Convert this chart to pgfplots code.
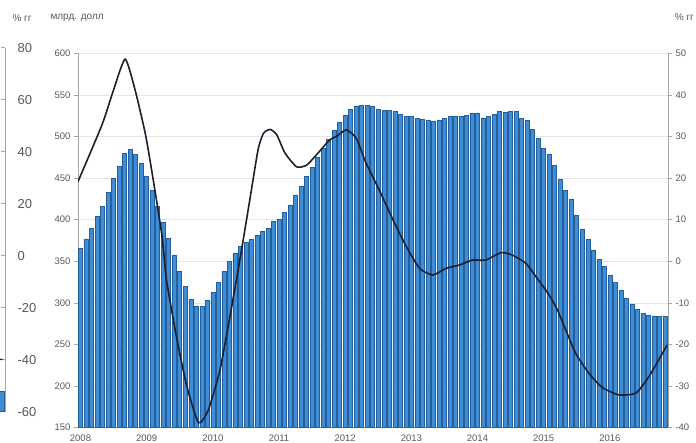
\documentclass[border=0pt]{standalone}
\usepackage{pgfplots}
\usepackage{pgfplotstable}
\pgfplotsset{compat=1.18}
\usepackage{fontspec}
\setmainfont{Liberation Sans}

\definecolor{barblue}{HTML}{3F8DD6}
\definecolor{baredge}{HTML}{245F9C}
\definecolor{tickgray}{HTML}{595959}
\definecolor{axgray}{HTML}{A6A6A6}
\definecolor{gridgray}{HTML}{E6E6E6}
\definecolor{linecol}{HTML}{1B1F2E}

% monthly values, bn USD, Jan 2008 = 0
\pgfplotstableread{
m v
0 365.6
1 376.8
2 389.7
3 404.0
4 415.6
5 432.5
6 449.7
7 464.5
8 479.8
9 484.6
10 478.6
11 467.8
12 452.5
13 435.0
14 415.6
15 396.4
16 377.6
17 357.6
18 337.5
19 319.5
20 304.3
21 296.3
22 295.5
23 302.7
24 312.3
25 324.3
26 337.5
27 349.5
28 359.6
29 367.5
30 372.4
31 376.4
32 381.6
33 386.4
34 389.7
35 397.6
36 400.4
37 408.4
38 417.7
39 429.7
40 440.5
41 452.5
42 463.0
43 475.0
44 485.8
45 496.6
46 507.8
47 516.6
48 525.8
49 532.7
50 536.7
51 537.0
52 537.5
53 535.8
54 532.7
55 531.0
56 531.0
57 529.8
58 527.0
59 524.6
60 523.8
61 521.9
62 520.7
63 519.9
64 517.8
65 519.9
66 521.9
67 523.8
68 524.9
69 524.6
70 525.8
71 528.2
72 528.3
73 522.5
74 524.6
75 527.0
76 529.8
77 528.6
78 530.6
79 529.8
80 521.9
81 519.0
82 508.6
83 497.8
84 485.8
85 479.0
86 465.7
87 448.5
88 434.9
89 424.5
90 405.6
91 388.5
92 376.4
93 363.6
94 352.4
95 343.5
96 333.5
97 324.3
98 314.7
99 305.5
100 298.7
101 292.3
102 287.5
103 285.5
104 284.3
105 283.4
106 284.0
}\exports

\begin{document}
\begin{tikzpicture}[x=1pt,y=1pt]
\path[use as bounding box] (0,0) rectangle (696,443);
\clip (0,0) rectangle (696,443);

% cut-off axis of the neighbouring chart
\begin{axis}[
  at={(-20pt,31.3pt)}, anchor=south west, scale only axis,
  width=25pt, height=364pt,
  xmin=0, xmax=1, ymin=-60, ymax=80,
  ytick={-60,-40,...,80},
  axis y line*=right, axis x line=none,
  axis line style={draw=axgray, line width=0.8pt},
  tick style={draw=axgray, line width=0.8pt},
  tick align=inside, major tick length=4pt,
  ticklabel style={text=tickgray, font=\fontsize{13}{15}\selectfont},
  yticklabel style={xshift=9pt},
  /pgf/number format/assume math mode=true,
]
\addplot[fill=barblue, draw=baredge] coordinates {(0.7,-60) (0.7,-52.3) (0.98,-52.3) (0.98,-60)} -- cycle;
\addplot[linecol, line width=1.2pt] coordinates {(0.7,-39.6) (0.9,-40)};
\end{axis}

% bars, left scale
\begin{axis}[
  at={(78pt,15.3pt)}, anchor=south west, scale only axis,
  width=590pt, height=374.4pt,
  xmin=-0.45, xmax=106.55, ymin=150, ymax=600,
  ytick={150,200,...,600},
  xtick={0,12,24,36,48,60,72,84,96},
  xticklabels={2008,2009,2010,2011,2012,2013,2014,2015,2016},
  axis x line*=bottom, axis y line*=left,
  ymajorgrids, grid style={draw=gridgray, line width=0.7pt},
  axis line style={draw=axgray, line width=0.7pt},
  tick style={draw=axgray, line width=0.7pt},
  xtick style={draw=none},
  tick align=outside, major tick length=4pt,
  ticklabel style={text=tickgray, font=\fontsize{9.5}{11}\selectfont},
  /pgf/number format/assume math mode=true,
  ybar, bar width=4pt,
]
\addplot[fill=barblue, draw=baredge, line width=0.5pt] table[x=m, y=v] {\exports};
\end{axis}

% y/y change, right scale
\begin{axis}[
  at={(78pt,15.3pt)}, anchor=south west, scale only axis,
  width=590pt, height=374.4pt,
  xmin=-0.45, xmax=106.55, ymin=-40, ymax=50,
  ytick={-40,-30,...,50},
  axis y line*=right, axis x line=none,
  axis line style={draw=axgray, line width=0.7pt},
  tick style={draw=axgray, line width=0.7pt},
  tick align=outside, major tick length=4pt,
  ticklabel style={text=tickgray, font=\fontsize{9.5}{11}\selectfont},
  /pgf/number format/assume math mode=true,
]
\addplot[linecol, line width=1.6pt, smooth, tension=0.35] coordinates {
(-0.5,19.0) (3.9,32.8) (6.0,41.2) (8.1,48.6) (9.9,41.2) (11.8,30.4)
(13.3,18.7) (14.8,5.9) (15.6,-4.5) (17.4,-18.1) (19.3,-30.1) (21.4,-38.8)
(23.2,-35.7) (25.3,-26.1) (27.1,-13.3) (28.9,0.3) (30.7,14.7) (32.2,26.8)
(33.2,30.8) (34.4,31.7) (35.6,30.4) (37.1,26.0) (39.2,22.7) (41.0,23.1)
(42.8,25.6) (45.2,29.2) (46.4,30.0) (48.2,31.6) (50.0,29.6) (51.8,23.6)
(54.2,17.1) (56.7,9.9) (59.1,3.5) (61.5,-1.7) (63.9,-3.3) (66.3,-1.7)
(68.7,-0.9) (71.1,0.3) (73.5,0.3) (76.3,2.1) (78.3,1.5) (80.8,-0.5)
(82.6,-3.7) (85.0,-8.1) (86.5,-11.7) (87.7,-15.5) (89.8,-22.1) (92.2,-26.9)
(94.6,-30.3) (97.6,-32.1) (100.7,-31.7) (103.1,-27.7) (106.4,-20.1)
};
\end{axis}

\node[anchor=west, text=tickgray, font=\fontsize{10}{12}\selectfont] at (9,425) {\% гг};
\node[anchor=west, text=tickgray, font=\fontsize{10}{12}\selectfont] at (47,425) {млрд. долл};
\node[anchor=east, text=tickgray, font=\fontsize{10}{12}\selectfont, inner sep=1pt] at (695,426) {\% гг};
\end{tikzpicture}
\end{document}
